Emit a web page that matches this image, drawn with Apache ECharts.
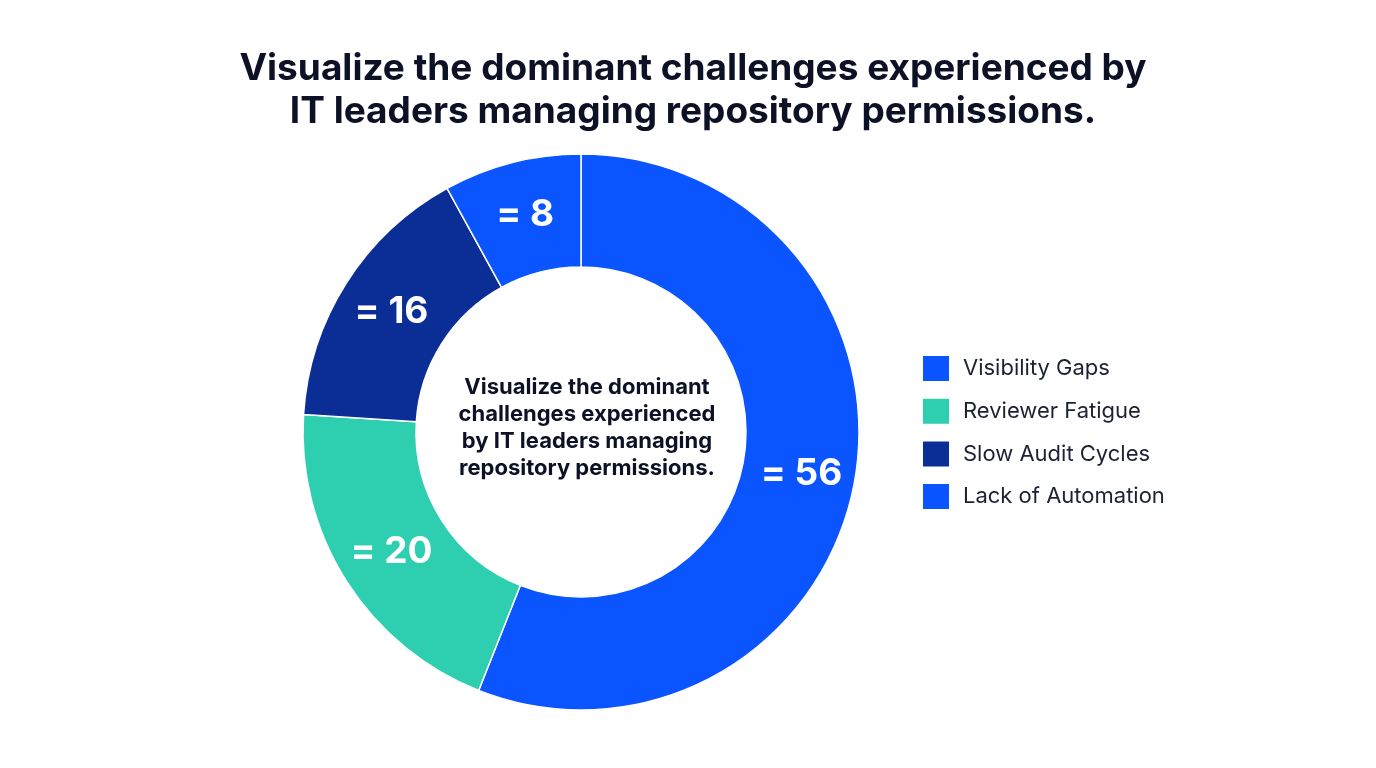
<!DOCTYPE html>
<html>
<head>
<meta charset="utf-8">
<script src="https://cdn.jsdelivr.net/npm/echarts@6/dist/echarts.min.js"></script>
<style>
  html, body { margin: 0; padding: 0; background: #fff; }
  #main { width: 1376px; height: 768px; }
</style>
</head>
<body>
<div id="main"></div>
<script>
// data
const categories = ['Visibility Gaps', 'Reviewer Fatigue', 'Slow Audit Cycles', 'Lack of Automation']
const values = [56, 20, 16, 8]
const colors = ['#0A55FF', '#2DCFB0', '#0A2E96', '#0A55FF']

const titleText = 'Visualize the dominant challenges experienced by\nIT leaders managing repository permissions.'
const centerText = 'Visualize the dominant\nchallenges experienced\nby IT leaders managing\nrepository permissions.'

const chart = echarts.init(document.getElementById('main'))

const option = {
  backgroundColor: '#ffffff',
  title: [
    {
      text: titleText,
      left: 688,
      top: 42,
      textAlign: 'center',
      textStyle: {
        fontFamily: 'Inter',
        fontWeight: 'bold',
        fontSize: 37,
        lineHeight: 43,
        color: '#0d1126'
      }
    },
    {
      text: centerText,
      left: 582,
      top: 369,
      textAlign: 'center',
      textStyle: {
        fontFamily: 'Inter',
        fontWeight: 'bold',
        fontSize: 22,
        lineHeight: 27,
        color: '#0d1126'
      }
    }
  ],
  legend: {
    orient: 'vertical',
    left: 916,
    top: 349,
    itemWidth: 28,
    itemHeight: 27,
    itemGap: 13.7,
    icon: 'rect',
    textStyle: {
      fontFamily: 'Inter',
      fontSize: 22,
      color: '#1c2233',
      padding: [0, 0, 0, 8]
    },
    data: categories
  },
  series: [
    {
      type: 'pie',
      center: [581, 432],
      radius: [165, 278],
      startAngle: 90,
      clockwise: true,
      silent: true,
      itemStyle: {
        borderColor: '#ffffff',
        borderWidth: 1.5
      },
      label: {
        show: true,
        position: 'inside',
        formatter: p => '= ' + p.value,
        fontFamily: 'Inter',
        fontWeight: 'bold',
        fontSize: 37,
        color: '#ffffff'
      },
      labelLine: { show: false },
      data: categories.map((name, i) => ({
        name: name,
        value: values[i],
        itemStyle: { color: colors[i] }
      }))
    }
  ]
}

chart.setOption(option)
</script>
</body>
</html>
